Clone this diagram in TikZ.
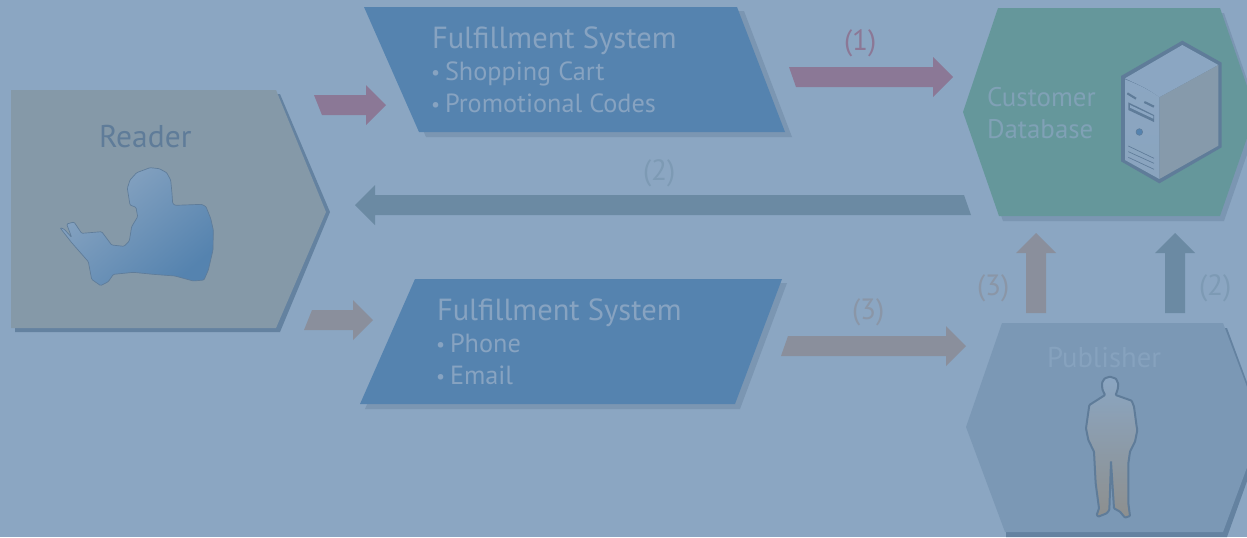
\documentclass[tikz,border=0pt]{standalone}
\usepackage{fontspec}
\setmainfont{PT Sans}
\usetikzlibrary{calc}
\definecolor{bgc}{HTML}{8BA6C2}
\definecolor{readerc}{HTML}{8599A8}
\definecolor{tealc}{HTML}{65979B}
\definecolor{fulc}{HTML}{5583AF}
\definecolor{pubc}{HTML}{7B98B5}
\definecolor{shadowa}{HTML}{6482A0}
\definecolor{shadowb}{HTML}{7B96B2}
\definecolor{pinkc}{HTML}{8B7896}
\definecolor{greyc}{HTML}{8A8F9C}
\definecolor{bluec}{HTML}{6B8AA3}
\definecolor{darkc}{HTML}{5F7C99}
\definecolor{silc}{HTML}{8D8F8E}
\tikzset{
  x=0.75pt,y=-0.75pt,
  txt/.style={anchor=base west,inner sep=0pt,outer sep=0pt},
  big/.style={txt,font=\fontsize{22.9}{27}\selectfont,text=bgc!92!fulc},
  small/.style={txt,font=\fontsize{19.7}{23}\selectfont,text=bgc!92!fulc},
  bullet/.style={txt,font=\fontsize{15}{18}\selectfont,text=bgc!92!fulc},
  cust/.style={txt,font=\fontsize{20.2}{23}\selectfont,text=bgc!70!tealc},
  lab/.style={txt,font=\fontsize{22}{25}\selectfont},
}
\begin{document}
\begin{tikzpicture}
\useasboundingbox (0,0) rectangle (1247,537);
\clip (0,0) rectangle (1247,537);
\fill[bgc] (0,0) rectangle (1247,537);

% coordinates anchoring the block arrows
\coordinate (aA) at (314,95);
\coordinate (aB) at (789,67);
\coordinate (aC) at (964,195);
\coordinate (aD) at (312,310);
\coordinate (aE) at (788,336);
\coordinate (aF) at (1026,313);
\coordinate (aG) at (1165,313);

% Reader
\fill[shadowa] (15,94) -- (280,94) -- (330,212) -- (280,332) -- (15,332) -- cycle;
\fill[readerc] (11,90) -- (276,90) -- (326,212) -- (276,328) -- (11,328) -- cycle;
% Fulfillment top
\fill[shadowb] (371,11) -- (744,11) -- (792,137) -- (426,137) -- cycle;
\fill[fulc] (364,7) -- (737,7) -- (785,132) -- (419,132) -- cycle;
% Fulfillment bottom
\fill[shadowb] (420,283) -- (787,283) -- (740,409) -- (365,409) -- cycle;
\fill[fulc] (415,279) -- (782,279) -- (735,404) -- (360,404) -- cycle;
% Customer Database
\fill[shadowb] (1002,13) -- (1224,13) -- (1260,117) -- (1224,221) -- (1003,221) -- (967,117) -- cycle;
\fill[tealc] (998,8) -- (1220,8) -- (1256,112) -- (1220,216) -- (999,216) -- (963,112) -- cycle;
% Publisher
\fill[shadowa] (1006,328) -- (1227,328) -- (1265,431) -- (1227,537) -- (1006,537) -- cycle;
\fill[pubc] (1002,323) -- (1223,323) -- (1262,427) -- (1223,532) -- (1005,532) -- (966,427) -- cycle;

% block arrows
\fill[pinkc] (aA) -- (366,95) -- (366,85) -- (386,105) -- (366,125) -- (366,115) -- (322,115) -- cycle;
\fill[pinkc] (aB) -- (933,67) -- (933,57) -- (953,77) -- (933,97) -- (933,87) -- (796,87) -- cycle;
\fill[bluec] (aC) -- (375,195) -- (375,185) -- (355,205) -- (375,225) -- (375,215) -- (971,215) -- cycle;
\fill[greyc] (aD) -- (353,310) -- (353,300) -- (373,320) -- (353,340) -- (353,330) -- (304,330) -- cycle;
\fill[greyc] (aE) -- (946,336) -- (946,326) -- (966,346) -- (946,366) -- (946,356) -- (781,356) -- cycle;
\fill[greyc] (aF) -- (1026,253) -- (1016,253) -- (1036,233) -- (1056,253) -- (1046,253) -- (1046,313) -- cycle;
\fill[bluec] (aG) -- (1165,253) -- (1155,253) -- (1175,233) -- (1195,253) -- (1185,253) -- (1185,313) -- cycle;

% texts
\node[txt,font=\fontsize{23.6}{27}\selectfont,text=darkc] (reader) at (99,147) {Reader};
\node[big] (fa) at (432,48) {Fulfillment System};
\node[bullet] (ba1) at (431,79) {•};
\node[small] (fa1) at (445,80) {Shopping Cart};
\node[bullet] (ba2) at (431,111) {•};
\node[small] (fa2) at (445,112) {Promotional Codes};
\node[big] (fb) at (437,320) {Fulfillment System};
\node[bullet] (bb1) at (436,351) {•};
\node[small] (fb1) at (450,352) {Phone};
\node[bullet] (bb2) at (436,383) {•};
\node[small] (fb2) at (450,384) {Email};
\node[cust] (cu) at (987,106) {Customer};
\node[cust] (db) at (987,138) {Database};
\node[txt,font=\fontsize{21.5}{25}\selectfont,text=bgc!70!pubc] (pub) at (1047,367) {Publisher};
\node[lab,text=pinkc] (l1) at (844,50) {(1)};
\node[lab,text=bluec!45!bgc] (l2) at (643,180) {(2)};
\node[lab,text=greyc!70!bgc] (l3) at (852,319) {(3)};
\node[lab,text=greyc!70!bgc] (l4) at (977,295) {(3)};
\node[lab,text=bluec!45!bgc] (l5) at (1199,295) {(2)};

% reader silhouette
\begin{scope}[shift={(0,80)},x=0.25pt,y=-0.25pt]
\draw[draw=darkc,line width=0.5pt,rounded corners=0.8pt,top color=bgc,bottom color=fulc,shading angle=40]
 (450,263) -- (478,266) -- (500,278) -- (512,300) -- (516,340) -- (518,370) -- (525,376) -- (605,373) -- (618,380) -- (632,415) -- (640,450) -- (639,510) -- (625,570) -- (612,600) -- (580,603) -- (525,588) -- (460,583) -- (400,577) -- (340,583) -- (325,605) -- (302,617) -- (285,605) -- (275,598) -- (265,545) -- (215,488) -- (180,443) -- (192,447) -- (215,472) -- (200,432) -- (222,426) -- (245,460) -- (305,455) -- (335,495) -- (372,499) -- (388,483) -- (395,440) -- (413,410) -- (408,382) -- (390,375) -- (386,350) -- (382,325) -- (390,300) -- (410,278) -- cycle;
\end{scope}

% publisher silhouette
\begin{scope}[shift={(950,230)},x=0.25pt,y=-0.25pt]
\draw[draw=darkc,line width=1.5pt,rounded corners=0.6pt,top color=bgc,bottom color=silc]
 (480,440) -- (498,446) -- (505,462) -- (503,478) -- (497,495) -- (545,512) -- (552,530) -- (560,590) -- (562,600) -- (555,635) -- (540,665) -- (535,700) -- (535,820) -- (540,858) -- (525,863) -- (510,845) -- (492,835) -- (483,695) -- (478,840) -- (470,850) -- (445,860) -- (440,855) -- (447,835) -- (437,760) -- (432,665) -- (415,630) -- (408,595) -- (418,525) -- (465,495) -- (457,478) -- (456,458) -- (464,445) -- cycle;
\end{scope}

% server icon
\begin{scope}[shift={(950,0)},x=0.25pt,y=-0.25pt]
\fill[darkc,line join=round] (697,122) -- (815,188) -- (815,442) -- (628,550) -- (513,484) -- (513,228) -- cycle;
\fill[bgc] (697,135) -- (805,195) -- (628,292) .. controls (590,262) and (555,250) .. (525,235) -- cycle;
\fill[readerc!90!bgc] (628,292) -- (805,195) -- (805,437) -- (628,537) -- cycle;
\shade[top color=bgc,bottom color=bgc!85!readerc] (525,238) .. controls (560,252) and (600,270) .. (628,292) -- (628,537) -- (525,480) -- cycle;
\draw[darkc,line width=1.6pt] (532,280) -- (558,296);
\draw[darkc,line width=1.6pt] (583,306) -- (612,320);
\fill[darkc] (535,307) -- (612,345) -- (612,366) -- (535,330) -- cycle;
\fill[bgc] (540,315) -- (610,348) -- (610,356) -- (540,323) -- cycle;
\fill[fulc,draw=darkc,line width=0.4pt] (568,396) circle (10);
\draw[darkc,line width=0.5pt] (535,438) -- (612,475) (535,455) -- (612,490) (535,472) -- (612,508);
\end{scope}
\end{tikzpicture}
\end{document}
